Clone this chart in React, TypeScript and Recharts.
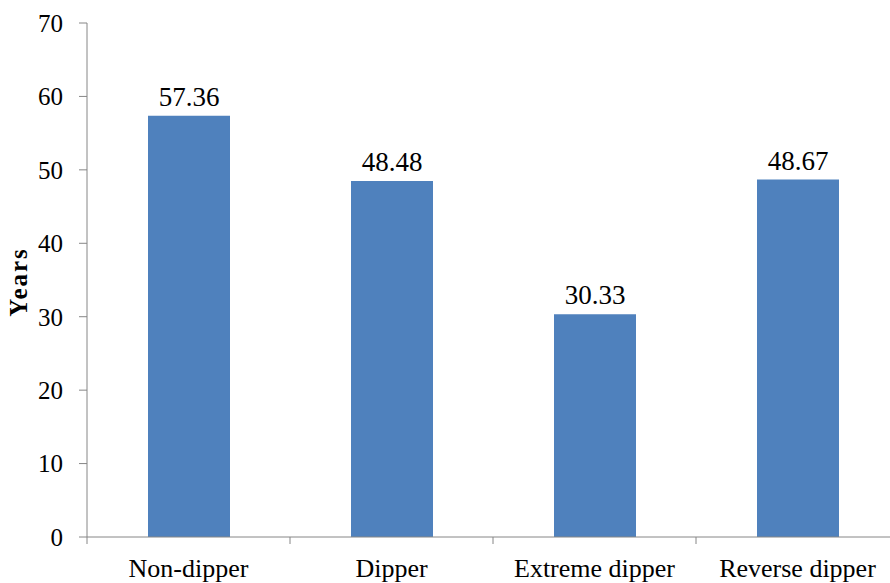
import React from 'react';
import { BarChart, Bar, XAxis, YAxis, LabelList } from 'recharts';

const categories = ['Non-dipper', 'Dipper', 'Extreme dipper', 'Reverse dipper'];
const years = [57.36, 48.48, 30.33, 48.67];
const yTicks = [0, 10, 20, 30, 40, 50, 60, 70];

const data = categories.map((c, i) => ({ name: c, value: years[i] }));

const FONT = "'Liberation Serif', 'Times New Roman', Times, serif";
const AXIS = '#868686';
const PLOT_W = 812;
const BAND = PLOT_W / categories.length;

const XTick = (props: any) => {
  const { x, y, payload, index } = props;
  return (
    <g>
      {index === 0 && (
        <line x1={x - BAND / 2} y1={y} x2={x - BAND / 2} y2={y + 7} stroke={AXIS} strokeWidth={1} />
      )}
      <line x1={x + BAND / 2} y1={y} x2={x + BAND / 2} y2={y + 7} stroke={AXIS} strokeWidth={1} />
      <text x={x} y={y + 40} textAnchor="middle" style={{ fontFamily: FONT, fontSize: 26 }} fill="#000">
        {payload.value}
      </text>
    </g>
  );
};

const YLabel = () => (
  <text
    x={27}
    y={282}
    transform="rotate(-90, 27, 282)"
    textAnchor="middle"
    style={{ fontFamily: FONT, fontSize: 25, fontWeight: 'bold', letterSpacing: 2 }}
    fill="#000"
  >
    Years
  </text>
);

export default function App() {
  return (
    <div style={{ position: 'absolute', left: 0, top: 0, width: 890, height: 583, overflow: 'hidden', background: '#fff', fontFamily: FONT }}>
      <BarChart
        width={900}
        height={583}
        data={data}
        margin={{ top: 23, right: 1, bottom: 0, left: 0 }}
        style={{ fontFamily: FONT }}
      >
        <XAxis
          dataKey="name"
          height={46}
          axisLine={{ stroke: AXIS, strokeWidth: 1 }}
          tickLine={false}
          tickSize={0}
          tickMargin={0}
          tick={<XTick />}
          interval={0}
        />
        <YAxis
          width={87}
          domain={[0, 70]}
          ticks={yTicks}
          interval={0}
          axisLine={{ stroke: AXIS, strokeWidth: 1 }}
          tickLine={{ stroke: AXIS, strokeWidth: 1 }}
          tickSize={8}
          tickMargin={16}
          tick={{ style: { fontFamily: FONT, fontSize: 25 }, fill: '#000' }}
          label={<YLabel />}
        />
        <Bar dataKey="value" fill="#4F81BD" barSize={82} isAnimationActive={false}>
          <LabelList
            dataKey="value"
            position="top"
            offset={10}
            style={{ fontFamily: FONT, fontSize: 27 }}
            fill="#000"
            formatter={(v: any) => Number(v).toFixed(2)}
          />
        </Bar>
      </BarChart>
    </div>
  );
}
